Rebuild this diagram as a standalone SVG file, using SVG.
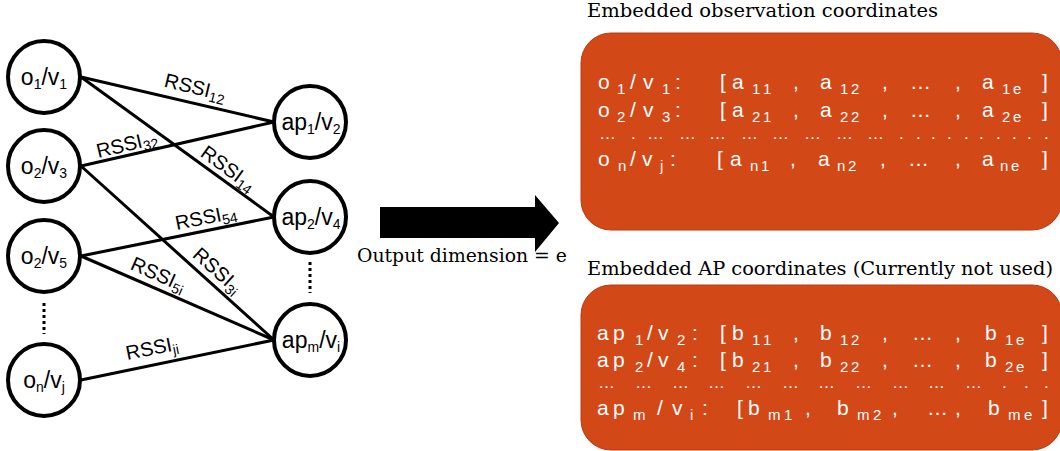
<svg xmlns="http://www.w3.org/2000/svg" width="1060" height="451" viewBox="0 0 1060 451">
<style>
.node{fill:#fff;stroke:#000;stroke-width:4}
.nl{font-family:"Liberation Sans",Arial,sans-serif;font-size:23px;fill:#000;text-anchor:middle}
.s{font-size:14px}
.el{font-family:"Liberation Sans",Arial,sans-serif;font-size:20px;fill:#000;text-anchor:middle}
.edge{stroke:#000;stroke-width:3;fill:none}
.dots{stroke:#000;stroke-width:3;stroke-dasharray:3 3}
.title{font-family:"DejaVu Serif","Liberation Serif",serif;font-size:18px;fill:#000}
.box{fill:#D24817;stroke:#B83C12;stroke-width:1}
.bt{font-family:"Liberation Sans",Arial,sans-serif;font-size:21px;fill:#fff}
.bs{font-family:"Liberation Sans",Arial,sans-serif;font-size:15px;fill:#fff}
.bd{font-family:"Liberation Sans",Arial,sans-serif;font-size:17px;fill:#fff}
</style>
<g id="connectors">
<line class="edge" x1="81" y1="77" x2="274" y2="122"/>
<line class="edge" x1="81" y1="77" x2="274" y2="217"/>
<line class="edge" x1="81" y1="166" x2="274" y2="122"/>
<line class="edge" x1="81" y1="166" x2="274" y2="340"/>
<line class="edge" x1="81" y1="256" x2="274" y2="217"/>
<line class="edge" x1="81" y1="256" x2="274" y2="340"/>
<line class="edge" x1="81" y1="380" x2="274" y2="340"/>
<text class="el" transform="translate(195,88) rotate(13.4)" y="6">RSSI<tspan class="s" dy="4">12</tspan></text>
<text class="el" transform="translate(127,145) rotate(-13.5)" y="6">RSSI<tspan class="s" dy="4">32</tspan></text>
<text class="el" transform="translate(228,169) rotate(36)" y="6">RSSI<tspan class="s" dy="4">14</tspan></text>
<text class="el" transform="translate(206,218) rotate(-11.5)" y="6">RSSI<tspan class="s" dy="4">54</tspan></text>
<text class="el" transform="translate(158,275) rotate(24)" y="6">RSSI<tspan class="s" dy="4">5i</tspan></text>
<text class="el" transform="translate(217,271) rotate(42)" y="6">RSSI<tspan class="s" dy="4">3i</tspan></text>
<text class="el" transform="translate(152,349) rotate(-11.4)" y="6">RSSI<tspan class="s" dy="4">ji</tspan></text>
<line class="dots" x1="44" y1="303" x2="44" y2="334"/>
<line class="dots" x1="310" y1="262" x2="310" y2="293"/>
</g>
<g id="o1v1"><circle class="node" cx="44" cy="77" r="36"/><text class="nl" x="44" y="85">o<tspan class="s" dy="4">1</tspan><tspan dy="-4">/v</tspan><tspan class="s" dy="4">1</tspan></text></g>
<g id="o2v3"><circle class="node" cx="44" cy="166" r="36"/><text class="nl" x="44" y="174">o<tspan class="s" dy="4">2</tspan><tspan dy="-4">/v</tspan><tspan class="s" dy="4">3</tspan></text></g>
<g id="o2v5"><circle class="node" cx="44" cy="256" r="36"/><text class="nl" x="44" y="264">o<tspan class="s" dy="4">2</tspan><tspan dy="-4">/v</tspan><tspan class="s" dy="4">5</tspan></text></g>
<g id="onvj"><circle class="node" cx="44" cy="380" r="36"/><text class="nl" x="44" y="388">o<tspan class="s" dy="4">n</tspan><tspan dy="-4">/v</tspan><tspan class="s" dy="4">j</tspan></text></g>
<g id="ap1v2"><circle class="node" cx="310" cy="122" r="36"/><text class="nl" x="311" y="130">ap<tspan class="s" dy="4">1</tspan><tspan dy="-4">/v</tspan><tspan class="s" dy="4">2</tspan></text></g>
<g id="ap2v4"><circle class="node" cx="310" cy="217" r="36"/><text class="nl" x="311" y="225">ap<tspan class="s" dy="4">2</tspan><tspan dy="-4">/v</tspan><tspan class="s" dy="4">4</tspan></text></g>
<g id="apmvi"><circle class="node" cx="310" cy="340" r="36"/><text class="nl" x="311" y="348">ap<tspan class="s" dy="4">m</tspan><tspan dy="-4">/v</tspan><tspan class="s" dy="4">i</tspan></text></g>
<g id="arrow">
<polygon points="380,207 535,207 535,195 559,223 535,252 535,238 380,238" fill="#000"/>
<text class="title" x="357" y="262" textLength="210" lengthAdjust="spacingAndGlyphs" style="font-size:19px">Output dimension = e</text>
</g>
<g id="obs">
<text class="title" x="587" y="17" textLength="351" lengthAdjust="spacingAndGlyphs">Embedded observation coordinates</text>
<rect class="box" x="581" y="33" width="481" height="197" rx="30"/>
<text class="bt" y="89"><tspan x="598">o</tspan><tspan x="630">/</tspan><tspan x="643">v</tspan><tspan x="675">:</tspan><tspan x="720">[</tspan><tspan x="732">a</tspan><tspan x="793">,</tspan><tspan x="820">a</tspan><tspan x="882">,</tspan><tspan x="910">…</tspan><tspan x="955">,</tspan><tspan x="982">a</tspan><tspan x="1042">]</tspan></text>
<text class="bs" y="94"><tspan x="617">1</tspan><tspan x="662">1</tspan><tspan x="752">1</tspan><tspan x="763">1</tspan><tspan x="840">1</tspan><tspan x="851">2</tspan><tspan x="1002">1</tspan><tspan x="1013">e</tspan></text>
<text class="bt" y="117"><tspan x="598">o</tspan><tspan x="630">/</tspan><tspan x="643">v</tspan><tspan x="675">:</tspan><tspan x="720">[</tspan><tspan x="732">a</tspan><tspan x="793">,</tspan><tspan x="820">a</tspan><tspan x="882">,</tspan><tspan x="910">…</tspan><tspan x="955">,</tspan><tspan x="982">a</tspan><tspan x="1042">]</tspan></text>
<text class="bs" y="122"><tspan x="617">2</tspan><tspan x="662">3</tspan><tspan x="752">2</tspan><tspan x="763">1</tspan><tspan x="840">2</tspan><tspan x="851">2</tspan><tspan x="1002">2</tspan><tspan x="1013">e</tspan></text>
<text class="bd" y="139"><tspan x="599">…</tspan><tspan x="631">.</tspan><tspan x="647">…</tspan><tspan x="679">…</tspan><tspan x="709">…</tspan><tspan x="741">…</tspan><tspan x="772">…</tspan><tspan x="804">…</tspan><tspan x="836">…</tspan><tspan x="867">…</tspan><tspan x="899">.</tspan><tspan x="916">.</tspan><tspan x="931">.</tspan><tspan x="947">.</tspan><tspan x="964">.</tspan><tspan x="979">.</tspan><tspan x="996">.</tspan><tspan x="1012">.</tspan><tspan x="1027">.</tspan><tspan x="1044">.</tspan></text>
<text class="bt" y="166"><tspan x="598">o</tspan><tspan x="630">/</tspan><tspan x="642">v</tspan><tspan x="670">:</tspan><tspan x="717">[</tspan><tspan x="730">a</tspan><tspan x="790">,</tspan><tspan x="818">a</tspan><tspan x="880">,</tspan><tspan x="908">…</tspan><tspan x="955">,</tspan><tspan x="982">a</tspan><tspan x="1042">]</tspan></text>
<text class="bs" y="171"><tspan x="618">n</tspan><tspan x="660">j</tspan><tspan x="750">n</tspan><tspan x="761">1</tspan><tspan x="837">n</tspan><tspan x="848">2</tspan><tspan x="1000">n</tspan><tspan x="1011">e</tspan></text>
</g>
<g id="ap">
<text class="title" x="587" y="275" textLength="466" lengthAdjust="spacingAndGlyphs">Embedded AP coordinates (Currently not used)</text>
<rect class="box" x="581" y="285" width="481" height="165" rx="30"/>
<text class="bt" y="340"><tspan x="597">a</tspan><tspan x="613">p</tspan><tspan x="647">/</tspan><tspan x="658">v</tspan><tspan x="692">:</tspan><tspan x="720">[</tspan><tspan x="732">b</tspan><tspan x="793">,</tspan><tspan x="820">b</tspan><tspan x="882">,</tspan><tspan x="912">…</tspan><tspan x="955">,</tspan><tspan x="985">b</tspan><tspan x="1042">]</tspan></text>
<text class="bs" y="345"><tspan x="635">1</tspan><tspan x="677">2</tspan><tspan x="752">1</tspan><tspan x="763">1</tspan><tspan x="840">1</tspan><tspan x="851">2</tspan><tspan x="1005">1</tspan><tspan x="1016">e</tspan></text>
<text class="bt" y="367"><tspan x="597">a</tspan><tspan x="613">p</tspan><tspan x="647">/</tspan><tspan x="658">v</tspan><tspan x="692">:</tspan><tspan x="720">[</tspan><tspan x="732">b</tspan><tspan x="793">,</tspan><tspan x="820">b</tspan><tspan x="882">,</tspan><tspan x="912">…</tspan><tspan x="955">,</tspan><tspan x="985">b</tspan><tspan x="1042">]</tspan></text>
<text class="bs" y="372"><tspan x="635">2</tspan><tspan x="677">4</tspan><tspan x="752">2</tspan><tspan x="763">1</tspan><tspan x="840">2</tspan><tspan x="851">2</tspan><tspan x="1005">2</tspan><tspan x="1016">e</tspan></text>
<text class="bd" y="388"><tspan x="598">…</tspan><tspan x="635">…</tspan><tspan x="672">…</tspan><tspan x="708">…</tspan><tspan x="745">…</tspan><tspan x="782">…</tspan><tspan x="818">…</tspan><tspan x="855">…</tspan><tspan x="892">…</tspan><tspan x="928">…</tspan><tspan x="965">…</tspan><tspan x="1002">.</tspan><tspan x="1024">.</tspan><tspan x="1044">.</tspan></text>
<text class="bt" y="415"><tspan x="597">a</tspan><tspan x="613">p</tspan><tspan x="657">/</tspan><tspan x="672">v</tspan><tspan x="702">:</tspan><tspan x="737">[</tspan><tspan x="748">b</tspan><tspan x="805">,</tspan><tspan x="837">b</tspan><tspan x="892">,</tspan><tspan x="927">…</tspan><tspan x="955">,</tspan><tspan x="988">b</tspan><tspan x="1042">]</tspan></text>
<text class="bs" y="420"><tspan x="633">m</tspan><tspan x="690">i</tspan><tspan x="768">m</tspan><tspan x="784">1</tspan><tspan x="857">m</tspan><tspan x="873">2</tspan><tspan x="1008">m</tspan><tspan x="1024">e</tspan></text>
</g>
</svg>
